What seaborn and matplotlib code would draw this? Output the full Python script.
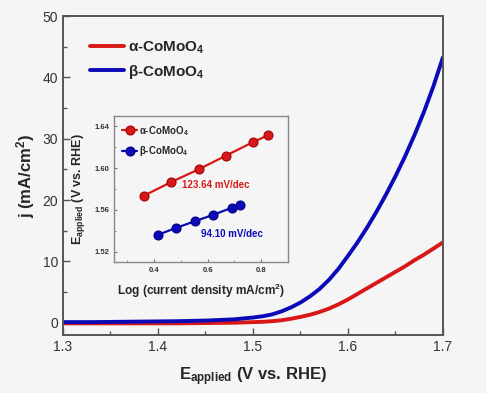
import numpy as np
import pandas as pd
import matplotlib
matplotlib.use('Agg')
import matplotlib.pyplot as plt
from matplotlib.ticker import MultipleLocator
from matplotlib.lines import Line2D
import seaborn as sns

# LSV curves
potential = [1.30, 1.33, 1.36, 1.39, 1.42, 1.45, 1.48, 1.50,
             1.51, 1.52, 1.53, 1.54, 1.55, 1.56, 1.57, 1.58, 1.59, 1.60,
             1.61, 1.62, 1.63, 1.64, 1.65, 1.66, 1.67, 1.68, 1.69, 1.70]
j_alpha = [-0.1, -0.1, -0.1, -0.1, -0.1, -0.05, 0.0, 0.1,
           0.15, 0.25, 0.4, 0.65, 0.95, 1.3, 1.75, 2.3, 3.0, 3.8,
           4.7, 5.6, 6.5, 7.4, 8.3, 9.2, 10.2, 11.1, 12.1, 13.1]
j_beta = [0.1, 0.1, 0.15, 0.2, 0.25, 0.35, 0.55, 0.85,
          1.05, 1.35, 1.85, 2.5, 3.3, 4.3, 5.5, 7.0, 8.8, 10.9,
          13.1, 15.5, 18.1, 20.9, 23.9, 27.1, 30.6, 34.4, 38.6, 43.3]

# Tafel inset
log_j_alpha = [0.362, 0.463, 0.567, 0.669, 0.771, 0.825]
e_alpha = [1.5736, 1.5866, 1.5990, 1.6121, 1.6252, 1.6315]
log_j_beta = [0.414, 0.483, 0.552, 0.620, 0.689, 0.722]
e_beta = [1.5361, 1.5428, 1.5491, 1.5552, 1.5619, 1.5648]

labels = ['α-CoMoO$_4$', 'β-CoMoO$_4$']
slopes = ['123.64 mV/dec', '94.10 mV/dec']
red = '#d81818'
blue = '#0a0ab8'
bg = '#f5f5f5'

sns.set_style('ticks')
plt.rcParams['font.family'] = ['Liberation Sans', 'DejaVu Sans']
plt.rcParams['mathtext.fontset'] = 'custom'
plt.rcParams['mathtext.rm'] = 'Liberation Sans'
plt.rcParams['mathtext.bf'] = 'Liberation Sans:bold'
plt.rcParams['mathtext.default'] = 'bf'

df = pd.DataFrame({
    'E': potential * 2,
    'j': j_alpha + j_beta,
    'sample': [labels[0]] * len(potential) + [labels[1]] * len(potential),
})

fig = plt.figure(figsize=(4.86, 3.93), dpi=100, facecolor=bg)
ax = fig.add_axes([0.1296, 0.1476, 0.7819, 0.8114])
ax.set_facecolor(bg)
sns.lineplot(data=df, x='E', y='j', hue='sample', palette=[red, blue],
             linewidth=2.8, ax=ax, legend=False)
ax.set_xlim(1.3, 1.7)
ax.set_ylim(-2, 50)
ax.xaxis.set_major_locator(MultipleLocator(0.1))
ax.xaxis.set_minor_locator(MultipleLocator(0.05))
ax.yaxis.set_major_locator(MultipleLocator(10))
ax.yaxis.set_minor_locator(MultipleLocator(5))
ax.tick_params(which='both', direction='in', colors='#555555', labelcolor='#333333',
               labelsize=10)
ax.tick_params(which='major', length=5, width=1)
ax.tick_params(which='minor', length=3, width=1)
for s in ax.spines.values():
    s.set_color('#555555')
    s.set_linewidth(1.4)
ax.set_xlabel('E$_{applied}$ (V vs. RHE)', fontsize=12, fontweight='bold', labelpad=8)
ax.set_ylabel('j (mA/cm$^2$)', fontsize=12, fontweight='bold', labelpad=4)

handles = [Line2D([], [], color=red, lw=2.8), Line2D([], [], color=blue, lw=2.8)]
ax.legend(handles, labels, loc='upper left', bbox_to_anchor=(0.035, 0.97),
          frameon=False, handlelength=2.2, handletextpad=0.3,
          labelspacing=0.45, prop={'size': 11, 'weight': 'bold'})

# inset
ins = fig.add_axes([0.2346, 0.3333, 0.3580, 0.3715])
ins.set_facecolor(bg)
sns.lineplot(x=log_j_alpha, y=e_alpha, color=red, marker='o', markersize=6.5,
             markeredgecolor='#a00000', linewidth=1.6, ax=ins, label=labels[0])
sns.lineplot(x=log_j_beta, y=e_beta, color=blue, marker='o', markersize=6.5,
             markeredgecolor='#000080', linewidth=1.6, ax=ins, label=labels[1])
ins.set_xlim(0.25, 0.9)
ins.set_ylim(1.51, 1.65)
ins.xaxis.set_major_locator(MultipleLocator(0.2))
ins.xaxis.set_minor_locator(MultipleLocator(0.1))
ins.yaxis.set_major_locator(MultipleLocator(0.04))
ins.yaxis.set_minor_locator(MultipleLocator(0.02))
ins.tick_params(which='both', direction='in', labelsize=5.5, colors='#777777',
                labelcolor='#333333')
ins.tick_params(which='major', length=2.5)
ins.tick_params(which='minor', length=1.5)
for lab in ins.get_xticklabels() + ins.get_yticklabels():
    lab.set_fontweight('bold')
for s in ins.spines.values():
    s.set_color('#888888')
    s.set_linewidth(1.0)
ins.set_xlabel('Log (current density mA/cm$^2$)', fontsize=8.6, fontweight='bold', labelpad=6)
ins.set_ylabel('E$_{applied}$ (V vs. RHE)', fontsize=9, fontweight='bold', labelpad=5)
ins.legend(loc='upper left', frameon=False, handlelength=1.6, handletextpad=0.2,
           labelspacing=0.7, borderaxespad=0.4, prop={'size': 7, 'weight': 'bold'})
ins.text(0.631, 1.5834, slopes[0], color=red, fontsize=7, fontweight='bold',
         ha='center', va='center')
ins.text(0.689, 1.5365, slopes[1], color=blue, fontsize=7, fontweight='bold',
         ha='center', va='center')

fig.savefig('out.png', dpi=100, facecolor=bg)
